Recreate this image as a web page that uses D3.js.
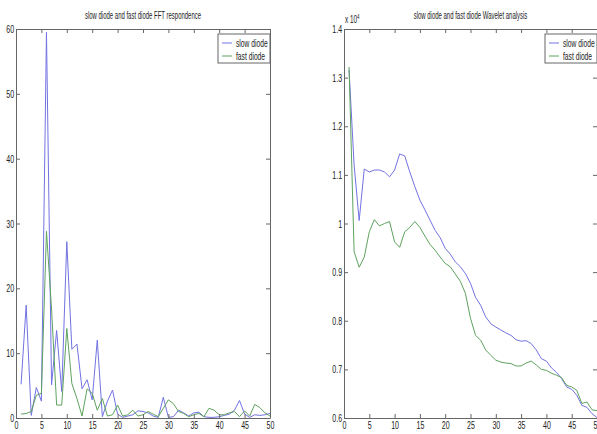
<!DOCTYPE html>
<html>
<head>
<meta charset="utf-8">
<script src="https://cdn.jsdelivr.net/npm/d3@7"></script>
<style>
  html, body { margin: 0; padding: 0; background: #fff; }
  svg { display: block; }
  text { font-family: "Liberation Sans", Arial, sans-serif; fill: #222; }
</style>
</head>
<body>
<svg id="chart" width="597" height="434"></svg>
<script>
// Sample index for both panels
const samples = d3.range(1, 51);

// FFT magnitude per sample
const fftSlow = [5.2,17.4,0.4,4.7,2.6,59.5,5.1,13.5,4.1,27.2,10.6,11.4,4.5,5.9,2.8,12.0,0.2,2.6,4.3,0.6,
  0.1,0.3,0.5,1.1,1.0,0.8,0.3,0.1,3.2,0.1,0.2,1.2,0.8,0.3,0.8,0.9,0.2,0.1,0.1,0.2,
  0.4,0.6,1.2,2.7,0.6,0.1,0.5,0.4,0.5,0.7];
const fftFast = [0.6,0.7,1.0,3.5,3.8,28.8,16.8,2.0,2.0,13.8,5.3,3.0,0.3,4.5,3.8,1.2,3.0,0.3,0.5,2.0,
  0.3,0.5,1.2,0.3,0.5,1.0,0.6,0.2,1.5,2.8,2.2,1.0,0.7,0.2,0.5,0.7,0.2,1.5,1.2,0.5,
  0.5,0.8,1.0,0.2,1.1,0.3,2.1,1.6,0.8,0.3];

// Wavelet energy per sample
const waveSlow = [13160,11200,10060,11120,11060,11100,11100,11060,10960,11100,11430,11390,11060,10760,10480,10280,10070,9860,9710,9490,
  9370,9210,9110,8970,8770,8480,8320,8080,7940,7870,7810,7750,7700,7610,7580,7590,7530,7400,7220,7170,
  7030,6940,6810,6640,6590,6470,6260,6220,6090,6010];
const waveFast = [13220,9420,9100,9310,9830,10080,9950,10000,10040,9620,9510,9830,9920,10040,9920,9740,9570,9450,9310,9180,
  9110,8960,8810,8560,8050,7700,7600,7400,7290,7190,7150,7130,7120,7070,7070,7130,7170,7090,7000,6980,
  6920,6880,6830,6670,6640,6570,6300,6330,6170,6150];

const seriesNames = ["slow diode", "fast diode"];
const seriesColors = ["#7272e2", "#5ea25e"];

const xTicks = d3.range(0, 51, 5);
const fftTicks = d3.range(0, 61, 10);
const waveTicks = d3.range(6000, 14001, 1000);

const svg = d3.select("#chart");
const squeeze = 0.64;   // narrow glyphs
const titleSqueeze = 0.57;

function panel(opts) {
  const g = svg.append("g");
  const x = d3.scaleLinear().domain([0, 50]).range([opts.left, opts.right]);
  const y = d3.scaleLinear().domain(opts.yDomain).range([418, 29]);

  const line = d3.line().x((d, i) => x(samples[i])).y(d => y(d));
  opts.series.forEach((s, k) => {
    g.append("path").datum(s)
      .attr("fill", "none")
      .attr("stroke", seriesColors[k])
      .attr("stroke-width", 1)
      .attr("d", line);
  });

  const axisStyle = sel => {
    sel.selectAll(".domain").attr("stroke", "#666");
    sel.selectAll(".tick line").attr("stroke", "#666");
    sel.selectAll(".tick text")
      .attr("font-size", 11)
      .attr("fill", "#222")
      .attr("font-family", "Liberation Sans, Arial, sans-serif")
      .attr("transform", `scale(${squeeze},1)`);
  };

  g.append("g").attr("transform", `translate(0,418)`)
    .call(d3.axisBottom(x).tickValues(xTicks).tickSize(-4).tickSizeOuter(0).tickPadding(3))
    .call(axisStyle);
  g.append("g").attr("transform", `translate(0,29)`)
    .call(d3.axisTop(x).tickValues(xTicks).tickSize(-4).tickSizeOuter(0).tickFormat(""))
    .call(axisStyle);
  g.append("g").attr("transform", `translate(${opts.left},0)`)
    .call(d3.axisLeft(y).tickValues(opts.yTicks).tickSize(-4).tickSizeOuter(0).tickPadding(3).tickFormat(opts.yFormat))
    .call(axisStyle);
  g.append("g").attr("transform", `translate(${opts.right},0)`)
    .call(d3.axisRight(y).tickValues(opts.yTicks).tickSize(-4).tickSizeOuter(0).tickFormat(""))
    .call(axisStyle);

  // title
  g.append("text")
    .attr("transform", `translate(${(opts.left + opts.right) / 2},19) scale(${titleSqueeze},1)`)
    .attr("text-anchor", "middle")
    .attr("font-size", 10.5)
    .text(opts.title);

  // legend
  const lg = g.append("g").attr("transform", `translate(${opts.right - 52},34)`);
  lg.append("rect").attr("width", 52).attr("height", 29)
    .attr("fill", "#fff").attr("stroke", "#666").attr("stroke-width", 1);
  seriesNames.forEach((name, k) => {
    const yy = 9 + k * 13;
    lg.append("line").attr("x1", 4).attr("x2", 14).attr("y1", yy).attr("y2", yy)
      .attr("stroke", seriesColors[k]).attr("stroke-width", 1);
    lg.append("text")
      .attr("transform", `translate(18,${yy + 3.5}) scale(${squeeze},1)`)
      .attr("font-size", 10.5)
      .text(name);
  });
  return g;
}

panel({
  left: 16, right: 270,
  yDomain: [0, 60], yTicks: fftTicks, yFormat: d3.format("d"),
  series: [fftSlow, fftFast],
  title: "slow diode and fast diode FFT respondence"
});

const right = panel({
  left: 344, right: 597,
  yDomain: [6000, 14000], yTicks: waveTicks, yFormat: d => d3.format("")(+(d / 1e4).toFixed(1)),
  series: [waveSlow, waveFast],
  title: "slow diode and fast diode Wavelet analysis"
});

// exponent marker for the wavelet axis
const ex = right.append("text")
  .attr("transform", `translate(345,23) scale(${squeeze},1)`)
  .attr("font-size", 10);
ex.append("tspan").text("x 10");
ex.append("tspan").attr("dy", -4).attr("font-size", 7).text("4");
</script>
</body>
</html>
